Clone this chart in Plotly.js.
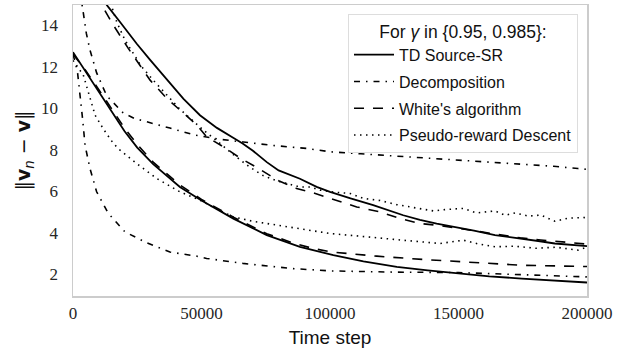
<!DOCTYPE html>
<html>
<head>
<meta charset="utf-8">
<script src="https://cdn.plot.ly/plotly-3.0.1.min.js"></script>
<style>html,body{margin:0;padding:0;background:#fff;}#chart{width:633px;height:354px;}</style>
</head>
<body>
<div id="chart"></div>
<script>
// ---- data ----
const methodNames = ["TD Source-SR", "Decomposition", "White's algorithm", "Pseudo-reward Descent"];
const gammaLabels = ["0.95", "0.985"];

// TD Source-SR
const tdX95 = [0, 5000, 10000, 15000, 20000, 25000, 31200, 41600, 50000, 62400, 75400, 88300, 101300, 113000, 126000, 138000, 150000, 162000, 174600, 187000, 200000];
const tdY95 = [12.7, 11.75, 10.8, 9.8, 8.9, 8.1, 7.3, 6.2, 5.55, 4.68, 3.88, 3.32, 2.92, 2.62, 2.35, 2.18, 2.03, 1.9, 1.79, 1.68, 1.6];
const tdX985 = [0, 5000, 10000, 13200, 18000, 24800, 30000, 37700, 43000, 49400, 56000, 62000, 66000, 70000, 75400, 80000, 84000, 88300, 94800, 100000, 108000, 116800, 128500, 135000, 141500, 148600, 156000, 164200, 174600, 181000, 187500, 194000, 200000];
const tdY985 = [19.5, 17.4, 15.6, 14.96, 14.2, 13.1, 12.33, 11.19, 10.45, 9.66, 9.05, 8.6, 8.3, 7.95, 7.4, 7.0, 6.8, 6.6, 6.21, 5.97, 5.65, 5.33, 4.84, 4.62, 4.44, 4.28, 4.1, 3.88, 3.72, 3.6, 3.48, 3.4, 3.35];

// Decomposition
const dcX95 = [0, 1700, 3800, 4700, 6600, 9200, 13700, 20200, 28700, 37700, 48100, 52000, 66100, 85600, 100000, 125000, 150000, 175000, 200000];
const dcY95 = [12.6, 11.8, 9.4, 8.2, 7.1, 5.97, 4.94, 4.04, 3.51, 3.07, 2.87, 2.76, 2.52, 2.27, 2.16, 2.1, 2.08, 1.97, 1.87];
const dcX985 = [0, 2000, 3000, 4000, 5200, 6600, 9200, 13100, 19600, 24000, 29300, 37700, 47500, 57000, 66300, 78000, 90900, 100000, 112000, 125000, 137000, 148000, 160000, 175000, 187000, 196500, 200000];
const dcY985 = [24, 17.5, 15.4, 14.6, 13.6, 12.8, 11.7, 10.6, 9.76, 9.5, 9.33, 9.04, 8.70, 8.5, 8.37, 8.2, 8.06, 7.9, 7.8, 7.7, 7.6, 7.5, 7.42, 7.3, 7.2, 7.09, 7.05];

// White's algorithm
const whX95 = [0, 5000, 10000, 15000, 20000, 25000, 31200, 41600, 50000, 62400, 75400, 85700, 93400, 100700, 118200, 136300, 151900, 174600, 200000];
const whY95 = [12.6, 11.8, 10.9, 9.95, 9.05, 8.25, 7.4, 6.3, 5.6, 4.75, 3.95, 3.5, 3.24, 3.07, 2.87, 2.71, 2.59, 2.43, 2.37];
const whX985 = [0, 5000, 11200, 15700, 21500, 30000, 36500, 42000, 48100, 52000, 58500, 65000, 72800, 80000, 87000, 94000, 101300, 110400, 119500, 127300, 135000, 141500, 150600, 158000, 166000, 174000, 182000, 190000, 196600, 200000];
const whY985 = [19, 17, 14.96, 14.0, 12.88, 11.35, 10.47, 9.85, 9.2, 8.62, 8.14, 7.6, 7.05, 6.5, 6.13, 5.9, 5.6, 5.24, 5.0, 4.68, 4.44, 4.36, 4.2, 4.05, 3.9, 3.75, 3.65, 3.55, 3.5, 3.45];

// Pseudo-reward Descent
const prX95 = [0, 4000, 8600, 11800, 15700, 18300, 24800, 32600, 41600, 49400, 55000, 62400, 70000, 79300, 90000, 100000, 110000, 120000, 130000, 142800, 151900, 158000, 164200, 172000, 180000, 188000, 196500, 200000];
const prY95 = [12.3, 11.6, 9.66, 9.0, 8.3, 7.98, 7.33, 6.61, 5.97, 5.57, 5.2, 4.76, 4.55, 4.36, 4.15, 3.96, 3.85, 3.72, 3.62, 3.48, 3.64, 3.45, 3.32, 3.35, 3.25, 3.3, 3.16, 3.3];
const prX985 = [0, 6000, 14000, 17000, 20200, 23500, 26700, 31200, 36500, 41600, 47500, 50700, 57200, 63000, 68900, 74000, 79300, 84000, 88300, 92200, 96100, 102000, 107800, 113000, 119500, 126000, 133700, 140200, 145400, 151900, 157000, 164200, 168100, 172000, 177200, 182000, 187500, 192700, 198600, 200000];
const prY985 = [19, 17.5, 15.3, 14.16, 13.28, 12.64, 12.0, 11.35, 10.63, 9.95, 9.3, 8.95, 8.3, 7.7, 7.15, 6.75, 6.5, 6.35, 6.2, 6.2, 6.05, 5.95, 5.89, 5.65, 5.55, 5.35, 5.2, 5.05, 5.12, 5.17, 4.95, 5.05, 4.84, 4.95, 4.8, 4.85, 4.55, 4.7, 4.73, 4.72];

const xTicks = [0, 50000, 100000, 150000, 200000];
const yTicks = [2, 4, 6, 8, 10, 12, 14];

// ---- styles ----
const dashes = ["solid", "6px,6px,1.5px,6px", "10px,9px", "1.5px,4.5px"];
const widths = [1.8, 1.6, 1.6, 1.6];
const series = [
  [[tdX95, tdY95], [tdX985, tdY985]],
  [[dcX95, dcY95], [dcX985, dcY985]],
  [[whX95, whY95], [whX985, whY985]],
  [[prX95, prY95], [prX985, prY985]]
];

const traces = [];
series.forEach((pair, m) => {
  pair.forEach((xy, g) => {
    traces.push({
      x: xy[0], y: xy[1], type: 'scatter', mode: 'lines',
      name: methodNames[m],
      legendgroup: 'g' + m,
      showlegend: g === 0,
      line: {color: '#000000', width: widths[m], dash: dashes[m]},
      hoverinfo: 'skip'
    });
  });
});

const layout = {
  width: 633, height: 354,
  margin: {l: 73, r: 46, t: 5, b: 58},
  paper_bgcolor: '#ffffff', plot_bgcolor: '#ffffff',
  font: {family: 'Liberation Serif, serif', color: '#262626', size: 17},
  showlegend: true,
  legend: {
    x: 0.9825, xanchor: 'right', y: 0.969, yanchor: 'top',
    bgcolor: '#ffffff', bordercolor: '#dddddd', borderwidth: 1,
    font: {family: 'Liberation Sans, sans-serif', size: 16, color: '#111111'},
    title: {text: 'For <i>γ</i> in {0.95, 0.985}:', side: 'top center', font: {family: 'Liberation Sans, sans-serif', size: 17.5, color: '#111111'}},
    itemwidth: 40,
    tracegroupgap: 3
  },
  xaxis: {
    range: [0, 200000], tickvals: xTicks, ticktext: xTicks.map(String),
    showgrid: false, zeroline: false,
    showline: true, mirror: true, linecolor: '#cccccc', linewidth: 1.5,
    ticks: 'outside', ticklen: 1, tickcolor: 'rgba(0,0,0,0)',
    tickfont: {family: 'Liberation Serif, serif', size: 17, color: '#262626'},
    title: {text: 'Time step', standoff: 9, font: {family: 'Liberation Sans, sans-serif', size: 19, color: '#111111'}}
  },
  yaxis: {
    range: [0.95, 14.97], tickvals: yTicks, ticktext: yTicks.map(String),
    showgrid: false, zeroline: false,
    showline: true, mirror: true, linecolor: '#cccccc', linewidth: 1.5,
    ticks: 'outside', ticklen: 10, tickcolor: 'rgba(0,0,0,0)',
    tickfont: {family: 'Liberation Serif, serif', size: 17, color: '#262626'},
    title: {text: '‖<b>v</b><sub><i>n</i></sub> − <b>v</b>‖', standoff: 5, font: {family: 'DejaVu Sans, sans-serif', size: 19, color: '#111111'}}
  }
};

Plotly.newPlot('chart', traces, layout, {staticPlot: true, displayModeBar: false});
</script>
</body>
</html>
